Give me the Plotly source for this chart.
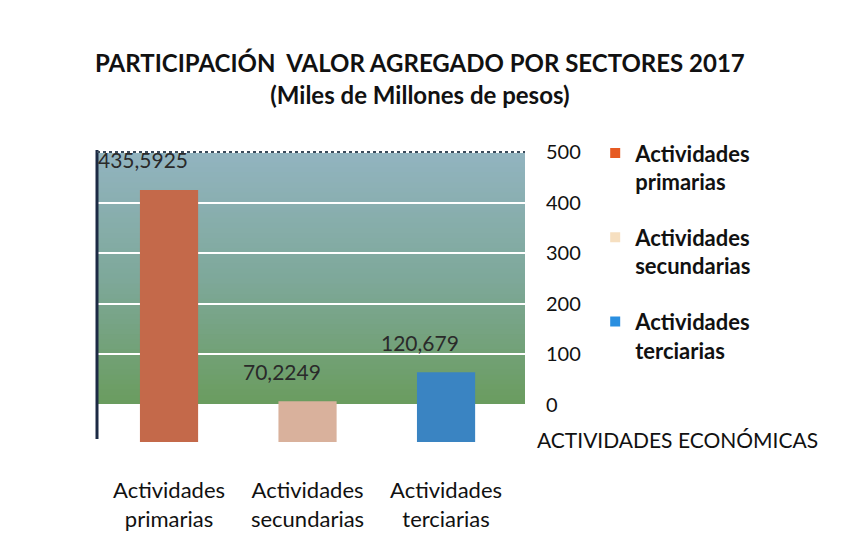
import plotly.graph_objects as go

categories = ["Actividades<br>primarias", "Actividades<br>secundarias", "Actividades<br>terciarias"]
series_names = ["Actividades<br>primarias", "Actividades<br>secundarias", "Actividades<br>terciarias"]
values = [435.5925, 70.2249, 120.679]
value_labels = ["435,5925", "70,2249", "120,679"]
bar_colors = ["#c4694a", "#d9b19c", "#3a84c2"]
legend_colors = ["#e65a22", "#f6dfc0", "#2a8fe0"]
y_ticks = [0, 100, 200, 300, 400, 500]

FONT = "Lato"
fig = go.Figure()

for i in range(3):
    fig.add_trace(go.Bar(
        x=[categories[i]], y=[values[i]], yaxis="y2",
        marker=dict(color=bar_colors[i], line=dict(width=0)),
        width=0.42, showlegend=False, hoverinfo="x+y",
    ))
for i in range(3):
    fig.add_trace(go.Scatter(
        x=[None], y=[None], mode="markers", name=series_names[i],
        legendgroup=str(i),
        marker=dict(symbol="square", size=10, color=legend_colors[i]),
    ))

# data labels
for i in range(3):
    fig.add_annotation(x=categories[i], y=values[i], xref="x", yref="y2",
                       text=value_labels[i], showarrow=False,
                       xshift=-26, yshift=30,
                       font=dict(family=FONT, size=21, color="#2a2a2a"))

# wall gradient (bluish top to green bottom)
top = (146, 180, 192)
mid = (126, 168, 154)
bot = (106, 156, 94)
n = 50
shapes = []
for k in range(n):
    t = (k + 0.5) / n
    if t < 0.5:
        a, b, u = bot, mid, t / 0.5
    else:
        a, b, u = mid, top, (t - 0.5) / 0.5
    c = tuple(int(round(a[j] + (b[j] - a[j]) * u)) for j in range(3))
    shapes.append(dict(type="rect", xref="paper", yref="y",
                       x0=0, x1=1, y0=500 * k / n,
                       y1=min(500.0, 500 * (k + 1.6) / n),
                       fillcolor="rgb(%d,%d,%d)" % c, line=dict(width=0),
                       layer="below"))
shapes.append(dict(type="line", xref="paper", yref="paper", x0=0, x1=0,
                   y0=0.02, y1=1, line=dict(color="#1c2a44", width=3)))
shapes.append(dict(type="line", xref="paper", yref="y", x0=0, x1=1,
                   y0=500, y1=500, line=dict(color="#3a4a5a", width=2, dash="dot")))

fig.add_annotation(text="ACTIVIDADES ECONÓMICAS", xref="paper", yref="paper",
                   x=1.023, y=0.017, xanchor="left", yanchor="middle",
                   showarrow=False, font=dict(family=FONT, size=21, color="#111"))

fig.update_layout(
    width=851, height=560,
    margin=dict(l=89, r=334, t=142, b=123),
    paper_bgcolor="white", plot_bgcolor="white",
    barmode="overlay",
    title=dict(text="PARTICIPACIÓN  VALOR AGREGADO POR SECTORES 2017<br>(Miles de Millones de pesos)",
               x=0.484, xanchor="center", y=0.885, yanchor="top",
               font=dict(family=FONT, size=24, color="#111", weight="bold")),
    shapes=shapes,
    xaxis=dict(range=[-0.52, 2.57], showgrid=False, zeroline=False, showline=False,
               ticks="", ticklabelstandoff=30,
               tickfont=dict(family=FONT, size=22, color="#111")),
    yaxis=dict(range=[-79, 504], side="right", tickvals=y_ticks,
               showgrid=True, gridcolor="white", gridwidth=2, zeroline=False,
               showline=False, ticks="", ticklabelstandoff=20,
               tickfont=dict(family=FONT, size=20, color="#111")),
    yaxis2=dict(range=[-5.2, 504.7], overlaying="y", visible=False),
    legend=dict(x=1.164, y=1.06, xanchor="left", yanchor="top",
                tracegroupgap=24, valign="top",
                font=dict(family=FONT, size=22, color="#111", weight="bold"),
                bgcolor="rgba(0,0,0,0)"),
)

fig.write_html("out.html")
